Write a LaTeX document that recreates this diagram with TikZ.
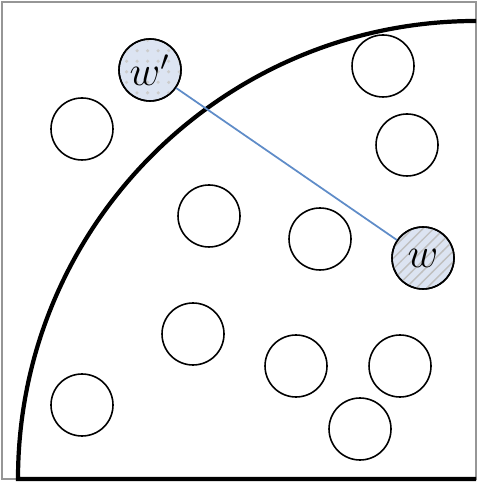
\documentclass[tikz,border=0pt]{standalone}
\usepackage{tikz}
\usetikzlibrary{positioning, patterns}
\definecolor{nodeblue}{RGB}{220, 228, 242}
\definecolor{linkblue}{RGB}{95, 140, 200}
\definecolor{framegrey}{RGB}{150, 150, 150}

\begin{document}
\begin{tikzpicture}[x=0.1mm, y=-0.1mm, >=stealth,
    pt/.style={draw, circle, line width=0.45pt, minimum size=6.2mm, inner sep=0pt, fill=white},
    chosen/.style={pt, fill=nodeblue, font=\large}]
    \useasboundingbox (0,0) rectangle (479,483);
    \draw [framegrey, line width=0.4pt] (2,2) rectangle (476,479);
    % quarter disc boundary
    \draw [line width=1.2pt] (476,479) -- (18,479) arc[start angle=180, end angle=270, radius=458];
    
    \node [chosen, postaction={pattern=dots, pattern color=black!20}, postaction={draw}] (wp) at (150,70) {$w'$};
    \node [chosen, postaction={pattern=north east lines, pattern color=black!25}, postaction={draw}] (w) at (423,258) {$w$};
    
    \node [pt] (c1) at (383,66) {};
    \node [pt] (c2) at (82,129) {};
    \node [pt] (c3) at (407,145) {};
    \node [pt] (c4) at (209,216) {};
    \node [pt] (c5) at (320,239) {};
    \node [pt] (c6) at (193,334) {};
    \node [pt] (c7) at (296,366) {};
    \node [pt] (c8) at (400,366) {};
    \node [pt] (c9) at (82,405) {};
    \node [pt] (c10) at (360,429) {};
    
    \draw [linkblue, line width=0.5pt] (wp) -- (w);
\end{tikzpicture}
\end{document}
